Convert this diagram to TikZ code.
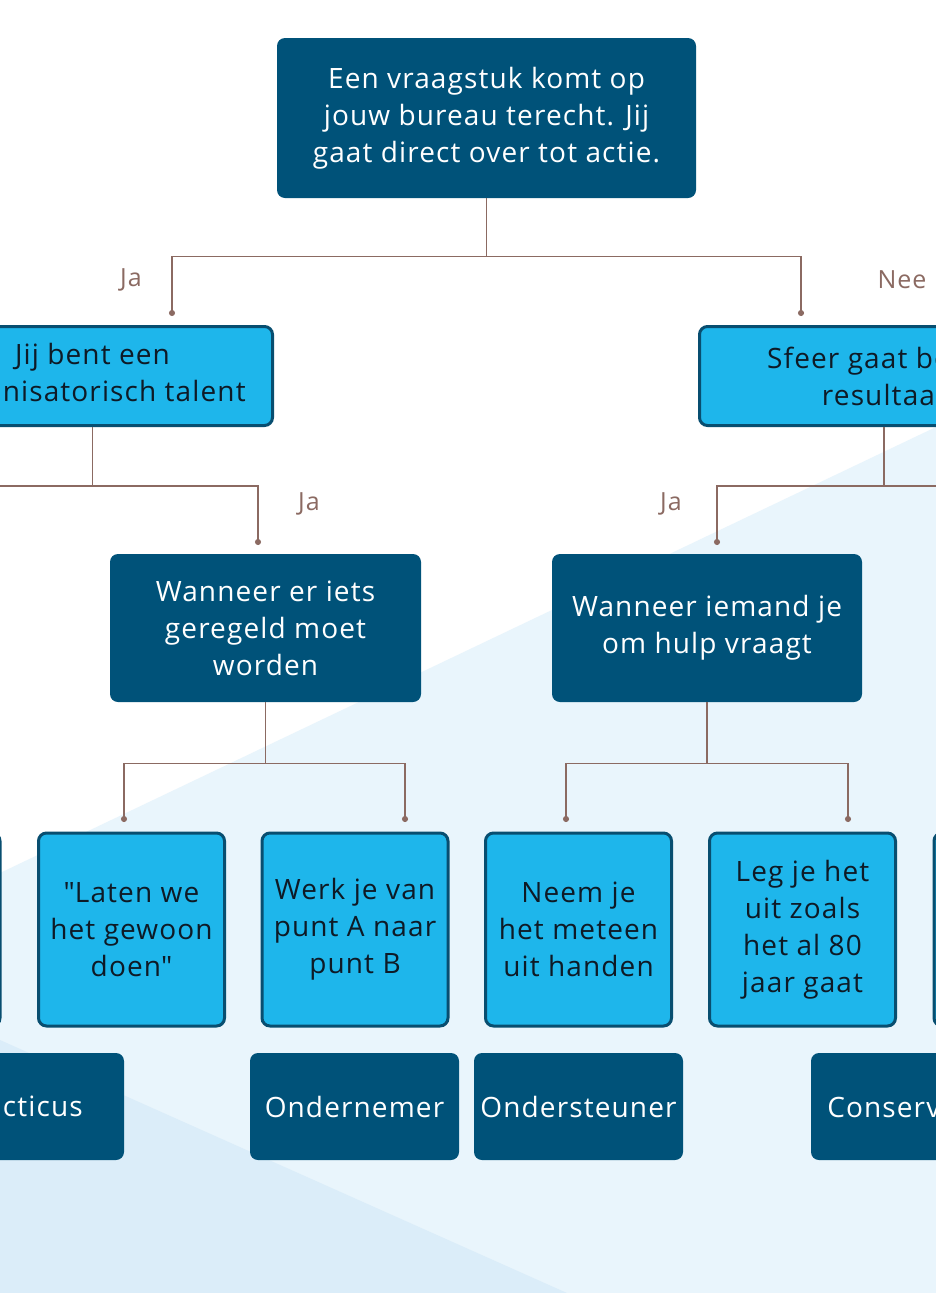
\documentclass[tikz,border=0pt]{standalone}
\usepackage{fontspec}
\setmainfont{Open Sans}[LetterSpace=4]
\usetikzlibrary{arrows.meta}

\definecolor{qblue}{RGB}{0,82,121}
\definecolor{ablue}{RGB}{30,182,235}
\definecolor{aedge}{RGB}{8,78,112}
\definecolor{atext}{RGB}{14,26,38}
\definecolor{linkc}{RGB}{139,106,98}
\definecolor{bgone}{RGB}{233,245,252}
\definecolor{bgtwo}{RGB}{219,237,249}

\begin{document}
\begin{tikzpicture}[
        x=1pt,y=-1pt,
        qbox/.style={rectangle,fill=qblue,rounded corners=8pt,text=white,align=center,inner sep=0pt,font=\fontsize{28}{37}\selectfont},
        abox/.style={rectangle,draw=aedge,line width=3pt,fill=ablue,rounded corners=8pt,text=atext,align=center,inner sep=0pt,minimum width=186pt,minimum height=193pt,font=\fontsize{28}{37}\selectfont},
        rbox/.style={qbox,minimum width=209pt,minimum height=107pt},
        link/.style={draw=linkc,line width=1.3pt,-{Circle[length=6pt]}},
        lbl/.style={text=linkc,font=\fontsize{25}{30}\selectfont},
    ]
    % === background ===
    \useasboundingbox (0,0) rectangle (936,1293);
    \clip (0,0) rectangle (936,1293);
    \fill[white] (0,0) rectangle (936,1293);
    \fill[bgone] (0,873) -- (936,427) -- (936,1293) -- (0,1293) -- cycle;
    \fill[bgtwo] (0,1040) -- (567,1293) -- (0,1293) -- cycle;

    % === level 1 ===
    \node[qbox,minimum width=419pt,minimum height=160pt] (root) at (486.5,118) {Een vraagstuk komt op\\jouw bureau terecht. Jij\\gaat direct over tot actie.};

    % === level 2 ===
    \node[abox,minimum width=360pt,minimum height=99pt] (talent) at (92.5,376) {Jij bent een\\organisatorisch talent};
    \node[abox,minimum width=369pt,minimum height=99pt] (sfeer) at (884,376) {Sfeer gaat boven\\resultaat};
    \coordinate (jaA) at (172,316);
    \coordinate (neeA) at (801,316);
    \draw[link] (root.south) -- ++(0,58) -| (jaA);
    \draw[link] (root.south) -- ++(0,58) -| (neeA);
    \node[lbl] (jaAl) at (131,280) {Ja};
    \node[lbl] (neeAl) at (902,280) {Nee};

    % === level 3 ===
    \node[qbox,minimum width=311pt,minimum height=148pt] (regel) at (265.5,628) {Wanneer er iets\\geregeld moet\\worden};
    \node[qbox,minimum width=310pt,minimum height=148pt] (hulp) at (707,628) {Wanneer iemand je\\om hulp vraagt};
    \coordinate (neeB) at (-80,545);
    \coordinate (jaB) at (258,545);
    \coordinate (jaC) at (717,545);
    \coordinate (neeC) at (1050,545);
    \draw[link] (talent.south) -- ++(0,59) -| (neeB);
    \draw[link] (talent.south) -- ++(0,59) -| (jaB);
    \draw[link] (sfeer.south) -- ++(0,59) -| (jaC);
    \draw[link] (sfeer.south) -- ++(0,59) -| (neeC);
    \node[lbl] (jaBl) at (309,504) {Ja};
    \node[lbl] (jaCl) at (671,504) {Ja};

    % === level 4 ===
    \node[abox] (left4) at (-93,929.5) {};
    \node[abox] (laten) at (131.5,929.5) {\textquotedbl Laten we\\het gewoon\\doen\textquotedbl};
    \node[abox] (werk) at (355,929.5) {Werk je van\\punt A naar\\punt B};
    \node[abox] (neem) at (578.5,929.5) {Neem je\\het meteen\\uit handen};
    \node[abox] (leg) at (802.5,929.5) {Leg je het\\uit zoals\\het al 80\\jaar gaat};
    \node[abox] (right4) at (1027,929.5) {};
    \coordinate (inA) at (124,822);
    \coordinate (inB) at (405,822);
    \coordinate (inC) at (566,822);
    \coordinate (inD) at (848,822);
    \draw[link] (regel.south) -- ++(0,61) -| (inA);
    \draw[link] (regel.south) -- ++(0,61) -| (inB);
    \draw[link] (hulp.south) -- ++(0,61) -| (inC);
    \draw[link] (hulp.south) -- ++(0,61) -| (inD);

    % === level 5 ===
    \node[rbox] (practicus) at (19.5,1106.5) {Practicus};
    \node[rbox] (ondernemer) at (354.5,1106.5) {Ondernemer};
    \node[rbox] (ondersteuner) at (578.5,1106.5) {Ondersteuner};
    \node[rbox] (conserv) at (915.5,1106.5) {Conservatief};
\end{tikzpicture}
\end{document}
